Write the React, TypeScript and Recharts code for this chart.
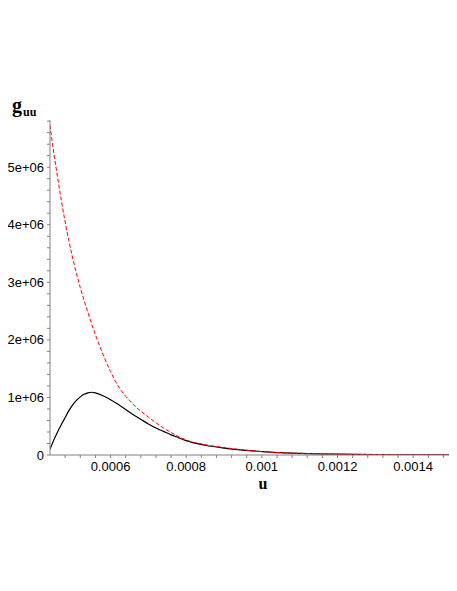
import { LineChart, Line, XAxis, YAxis } from 'recharts';

// u values
const uValues = [
  0.00044, 0.00045, 0.00046, 0.00047, 0.00048, 0.00049, 0.0005, 0.00051, 0.00052, 0.00053,
  0.00054, 0.00055, 0.00056, 0.00058, 0.0006, 0.00062, 0.00064, 0.00066, 0.00068, 0.0007,
  0.00072, 0.00074, 0.00076, 0.00078, 0.0008, 0.00085, 0.0009, 0.00095, 0.001, 0.00105,
  0.0011, 0.0012, 0.0013, 0.0014, 0.0015,
];

// g_uu in units of 1e+06
const redValues = [
  5.73, 5.25, 4.83, 4.42, 4.05, 3.72, 3.42, 3.15, 2.91, 2.69,
  2.48, 2.28, 2.09, 1.75, 1.45, 1.2, 1.02, 0.88, 0.76, 0.66,
  0.56, 0.47, 0.39, 0.32, 0.26, 0.18, 0.13, 0.09, 0.06, 0.04,
  0.03, 0.015, 0.008, 0.004, 0.002,
];

const blackValues = [
  0.1, 0.26, 0.4, 0.53, 0.65, 0.77, 0.87, 0.95, 1.01, 1.055,
  1.08, 1.09, 1.08, 1.03, 0.96, 0.88, 0.79, 0.7, 0.62, 0.54,
  0.47, 0.41, 0.35, 0.3, 0.25, 0.17, 0.12, 0.085, 0.06, 0.04,
  0.028, 0.014, 0.007, 0.004, 0.002,
];

const xTicks = [
  0.00048, 0.00052, 0.00056, 0.0006, 0.00064, 0.00068, 0.00072, 0.00076, 0.0008,
  0.00084, 0.00088, 0.00092, 0.00096, 0.001, 0.00104, 0.00108, 0.00112, 0.00116, 0.0012,
  0.00124, 0.00128, 0.00132, 0.00136, 0.0014, 0.00144, 0.00148,
];
const xMajor = [0.0006, 0.0008, 0.001, 0.0012, 0.0014];
const xMajorLabels = ['0.0006', '0.0008', '0.001', '0.0012', '0.0014'];

const yTicks = [
  0, 0.2, 0.4, 0.6, 0.8, 1, 1.2, 1.4, 1.6, 1.8, 2, 2.2, 2.4, 2.6, 2.8, 3,
  3.2, 3.4, 3.6, 3.8, 4, 4.2, 4.4, 4.6, 4.8, 5, 5.2, 5.4, 5.6, 5.8,
];
const yMajor = [0, 1, 2, 3, 4, 5];
const yMajorLabels = ['0', '1e+06', '2e+06', '3e+06', '4e+06', '5e+06'];

const data = uValues.map((u, i) => ({ u, red: redValues[i], black: blackValues[i] }));

const fmtX = (v: number) => {
  const i = xMajor.findIndex((m) => Math.abs(m - v) < 1e-9);
  return i >= 0 ? xMajorLabels[i] : '';
};
const fmtY = (v: number) => {
  const i = yMajor.findIndex((m) => Math.abs(m - v) < 1e-9);
  return i >= 0 ? yMajorLabels[i] : '';
};

const tickStyle = { fill: '#000', fontSize: 13, fontFamily: 'Liberation Sans, Arial, sans-serif' };

export default function App() {
  return (
    <div style={{ position: 'relative', width: 449, height: 575 }}>
      <LineChart
        width={449}
        height={575}
        data={data}
        margin={{ top: 112, right: 6, left: 0, bottom: 98 }}
      >
        <XAxis
          dataKey="u"
          type="number"
          domain={[0.00044, 0.0015]}
          ticks={xTicks}
          tickFormatter={fmtX}
          interval={0}
          height={30}
          stroke="#808080"
          tickSize={3}
          tickMargin={4}
          tick={tickStyle}
          allowDataOverflow
        />
        <YAxis
          type="number"
          domain={[0, 5.82]}
          ticks={yTicks}
          tickFormatter={fmtY}
          interval={0}
          width={42}
          stroke="#808080"
          tickSize={3}
          tickMargin={3}
          tick={tickStyle}
          allowDataOverflow
        />
        <Line
          type="monotone"
          dataKey="black"
          stroke="#000"
          strokeWidth={1.2}
          dot={false}
          isAnimationActive={false}
        />
        <Line
          type="monotone"
          dataKey="red"
          stroke="#ff0000"
          strokeWidth={1}
          strokeDasharray="4 2"
          dot={false}
          isAnimationActive={false}
        />
      </LineChart>
      <svg
        width={449}
        height={575}
        style={{ position: 'absolute', left: 0, top: 0, pointerEvents: 'none' }}
      >
        <text x={4} y={104} fontFamily="Liberation Serif, serif" fontWeight="bold" fontSize={20}>
          g
        </text>
        <text x={15} y={108} fontFamily="Liberation Serif, serif" fontWeight="bold" fontSize={12}>
          uu
        </text>
        <text
          x={255}
          y={481}
          textAnchor="middle"
          fontFamily="Liberation Serif, serif"
          fontWeight="bold"
          fontSize={16}
        >
          u
        </text>
      </svg>
    </div>
  );
}
